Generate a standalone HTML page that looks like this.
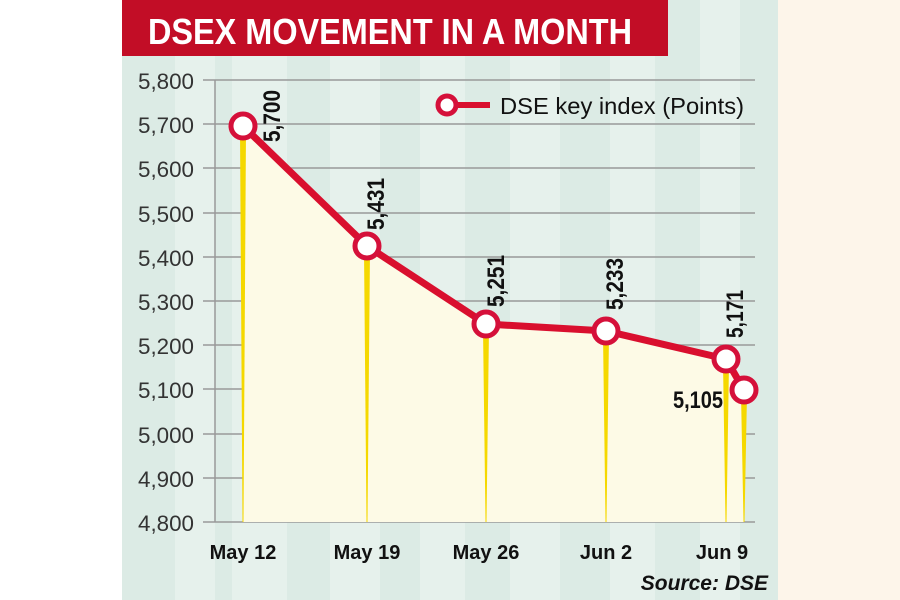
<!DOCTYPE html>
<html><head><style>
body{margin:0;width:900px;height:600px;overflow:hidden;background:#fff;}
svg{display:block}
</style></head><body>
<svg width="900" height="600" viewBox="0 0 900 600" xmlns="http://www.w3.org/2000/svg">
<rect x="0" y="0" width="900" height="600" fill="#fff"/>
<rect x="778" y="0" width="122" height="600" fill="#fdf5ea"/>
<rect x="122" y="0" width="656" height="600" fill="#dcebe5"/>
<g fill="#e6f1ec">
<rect x="175" y="0" width="40" height="600"/><rect x="232" y="0" width="55" height="600"/>
<rect x="330" y="0" width="50" height="600"/><rect x="420" y="0" width="45" height="600"/>
<rect x="510" y="0" width="50" height="600"/><rect x="610" y="0" width="45" height="600"/>
<rect x="700" y="0" width="40" height="600"/>
</g>
<rect x="122" y="0" width="546" height="56" fill="#c20d26"/>
<text x="148" y="44" font-family="Liberation Sans, sans-serif" font-weight="bold" font-size="36" fill="#fff" textLength="484" lengthAdjust="spacingAndGlyphs">DSEX MOVEMENT IN A MONTH</text>
<g stroke="#999" stroke-width="1.5">
<line x1="203" y1="80" x2="755" y2="80"/><line x1="203" y1="124" x2="755" y2="124"/>
<line x1="203" y1="168" x2="755" y2="168"/><line x1="203" y1="213" x2="755" y2="213"/>
<line x1="203" y1="257" x2="755" y2="257"/><line x1="203" y1="301" x2="755" y2="301"/>
<line x1="203" y1="345" x2="755" y2="345"/><line x1="203" y1="389" x2="755" y2="389"/>
<line x1="203" y1="434" x2="755" y2="434"/><line x1="203" y1="478" x2="755" y2="478"/>
<line x1="203" y1="522" x2="755" y2="522"/><line x1="215" y1="80" x2="215" y2="522"/>
</g>
<g font-family="Liberation Sans, sans-serif" font-size="22" fill="#333" text-anchor="end">
<text x="194" y="89" textLength="56" lengthAdjust="spacingAndGlyphs">5,800</text>
<text x="194" y="133" textLength="56" lengthAdjust="spacingAndGlyphs">5,700</text>
<text x="194" y="177" textLength="56" lengthAdjust="spacingAndGlyphs">5,600</text>
<text x="194" y="222" textLength="56" lengthAdjust="spacingAndGlyphs">5,500</text>
<text x="194" y="266" textLength="56" lengthAdjust="spacingAndGlyphs">5,400</text>
<text x="194" y="310" textLength="56" lengthAdjust="spacingAndGlyphs">5,300</text>
<text x="194" y="354" textLength="56" lengthAdjust="spacingAndGlyphs">5,200</text>
<text x="194" y="398" textLength="56" lengthAdjust="spacingAndGlyphs">5,100</text>
<text x="194" y="443" textLength="56" lengthAdjust="spacingAndGlyphs">5,000</text>
<text x="194" y="487" textLength="56" lengthAdjust="spacingAndGlyphs">4,900</text>
<text x="194" y="531" textLength="56" lengthAdjust="spacingAndGlyphs">4,800</text>
</g>
<polygon points="243,126 367,246 486,324 606,331 726,359 744,390 744,522 243,522" fill="#fdfae6"/>
<g fill="#f5d800">
<path d="M240,130 L246,130 L243.5,522 L242.5,522Z"/>
<path d="M364,250 L370,250 L367.5,522 L366.5,522Z"/>
<path d="M483,328 L489,328 L486.5,522 L485.5,522Z"/>
<path d="M603,335 L609,335 L606.5,522 L605.5,522Z"/>
<path d="M723,363 L729,363 L726.5,522 L725.5,522Z"/>
<path d="M741,394 L747,394 L744.5,522 L743.5,522Z"/>
</g>
<polyline points="243,126 367,246 486,324 606,331 726,359 744,390" fill="none" stroke="#d90f2e" stroke-width="7" stroke-linejoin="round"/>
<g fill="#fff" stroke="#d5103a" stroke-width="5">
<circle cx="243" cy="126" r="12"/><circle cx="367" cy="246" r="12"/>
<circle cx="486" cy="324" r="12"/><circle cx="606" cy="331" r="12"/>
<circle cx="726" cy="359" r="12"/><circle cx="744" cy="390" r="12"/>
</g>
<g font-family="Liberation Sans, sans-serif" font-weight="bold" font-size="24" fill="#111">
<text transform="translate(280,142) rotate(-90)" textLength="52" lengthAdjust="spacingAndGlyphs">5,700</text>
<text transform="translate(384,230) rotate(-90)" textLength="52" lengthAdjust="spacingAndGlyphs">5,431</text>
<text transform="translate(504,307) rotate(-90)" textLength="52" lengthAdjust="spacingAndGlyphs">5,251</text>
<text transform="translate(623,310) rotate(-90)" textLength="52" lengthAdjust="spacingAndGlyphs">5,233</text>
<text transform="translate(743,338) rotate(-90)" textLength="48" lengthAdjust="spacingAndGlyphs">5,171</text>
<text x="673" y="408" textLength="50" lengthAdjust="spacingAndGlyphs">5,105</text>
</g>
<g font-family="Liberation Sans, sans-serif" font-weight="bold" font-size="20" fill="#111" text-anchor="middle">
<text x="243" y="559">May 12</text><text x="367" y="559">May 19</text>
<text x="486" y="559">May 26</text><text x="606" y="559">Jun 2</text>
<text x="722" y="559">Jun 9</text>
</g>
<text x="768" y="590" text-anchor="end" font-family="Liberation Sans, sans-serif" font-weight="bold" font-style="italic" font-size="21" fill="#111">Source: DSE</text>
<line x1="447" y1="105" x2="490" y2="105" stroke="#d90f2e" stroke-width="6"/>
<circle cx="447" cy="105" r="9" fill="#fff" stroke="#d5103a" stroke-width="5"/>
<text x="500" y="114" font-family="Liberation Sans, sans-serif" font-size="23" fill="#111" textLength="244" lengthAdjust="spacingAndGlyphs">DSE key index (Points)</text>
</svg>
</body></html>
